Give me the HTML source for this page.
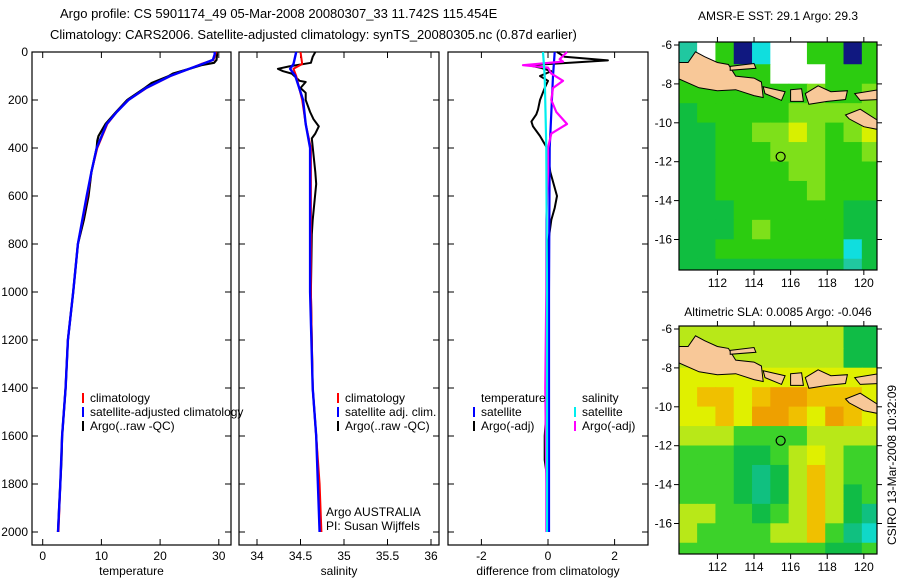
<!DOCTYPE html>
<html><head><meta charset="utf-8">
<style>
html,body{margin:0;padding:0;background:#fff;}
svg{display:block;font-family:"Liberation Sans",sans-serif;}
text{font-size:12px;fill:#000;}
</style></head>
<body>
<svg id="fig" width="900" height="580" viewBox="0 0 900 580" xmlns="http://www.w3.org/2000/svg">
<defs>
<clipPath id="m1clip"><rect x="679" y="42" width="198" height="228"/></clipPath>
<clipPath id="m2clip"><rect x="679" y="326" width="198" height="228"/></clipPath>
</defs>
<text x="60" y="18" style="font-size:13px">Argo profile: CS 5901174_49 05-Mar-2008 20080307_33 11.742S 115.454E</text>
<text x="50" y="39" style="font-size:13px">Climatology: CARS2006. Satellite-adjusted climatology: synTS_20080305.nc (0.87d earlier)</text>
<text x="778" y="20" text-anchor="middle">AMSR-E SST: 29.1 Argo: 29.3</text>
<text x="778" y="316" text-anchor="middle">Altimetric SLA: 0.0085 Argo: -0.046</text>
<text transform="translate(896,545) rotate(-90)">CSIRO 13-Mar-2008 10:32:09</text>
<g id="layer"></g>
</svg>
<script>
// ---------- data ----------
const depthTicks = [0,200,400,600,800,1000,1200,1400,1600,1800,2000];
const tempTicks = [0,10,20,30];
const salTicks = [34,34.5,35,35.5,36];
const diffTicks = [-2,0,2];
const lonTicks = [112,114,116,118,120];
const latTicks = [-6,-8,-10,-12,-14,-16];

const tempDepth = [0,10,33,50,70,100,150,200,250,300,400,500,600,800,1000,1200,1400,1600,1800,2000];
const tempClim = [29.5,29.4,29.1,27,25,21.8,17.7,14.6,12.6,11.0,9.3,8.3,7.6,6.0,5.2,4.3,3.9,3.3,3.0,2.7];
const tempSat = [29.3,29.3,29.0,27.2,25,21.7,17.6,14.6,12.6,10.9,9.2,8.3,7.5,6.0,5.2,4.3,3.9,3.3,3.0,2.6];
const argoTempDepth = [0,10,33,45,55,70,90,100,130,150,200,250,300,350,370,400,500,600,700,800,1000,1200,1400,1600,1700,1800,1900,2000];
const argoTemp = [29.6,29.7,29.6,29.2,27,25,22.2,21.5,18.5,17.4,14.4,12.5,10.7,9.5,9.3,9.2,8.3,7.8,7.0,6.0,5.2,4.3,3.9,3.3,3.2,3.0,2.8,2.6];

const salDepth = [0,50,70,100,200,300,400,600,1000,1400,1600,1800,2000];
const salClim = [34.50,34.52,34.42,34.45,34.52,34.56,34.62,34.62,34.62,34.64,34.68,34.72,34.74];
const salSat = [34.45,34.42,34.38,34.44,34.53,34.56,34.61,34.61,34.61,34.64,34.68,34.70,34.72];
const argoSalDepth = [0,20,45,60,70,80,90,120,125,150,170,200,250,280,310,340,360,500,550,700,760,1000,1400,1600,1800,2000];
const argoSal = [34.67,34.64,34.62,34.37,34.24,34.3,34.4,34.49,34.56,34.5,34.56,34.56,34.61,34.65,34.71,34.67,34.63,34.67,34.68,34.64,34.63,34.62,34.64,34.68,34.71,34.72];

const argoTdiffDepth = [0,20,35,45,55,65,80,100,120,150,200,240,260,290,310,350,400,500,600,650,700,800,1000,1400,1600,1700,1800,2000];
const argoTdiff = [0.27,0.5,1.8,0.66,-0.6,-0.24,0.1,-0.24,0,-0.1,-0.24,-0.3,-0.35,-0.5,-0.45,-0.24,-0.03,0.07,0.27,0.2,0.1,0,0,0,-0.1,-0.1,0,0];
const argoSdiffDepth = [0,30,40,55,65,90,120,150,200,250,300,340,400,500,700,1000,1400,1800,2000];
const argoSdiff = [0.57,0.35,0.45,-0.75,0.0,0.1,0.45,0.15,0.1,0.25,0.57,0.1,0,0,-0.05,-0.05,-0.08,-0.05,-0.05];
const satDiffDepth = [0,100,400,1000,2000];
const satTdiff = [0.2,0.15,0.05,0.03,0.03];
const satSdiff = [-0.15,-0.1,-0.05,-0.03,-0.03];

// map grids: rows lat -6..-18 (1 deg), cols lon 110..120
const sstRows = ["cwgbCwwggbg","gggggwwwggg","gggggggyggy","Ggggggyyyyy","GGggyyYygyY","GGgggyyyggy","GGggggyyggg","GGgggggyggg","GGGggggggGG","GGGgyggggGG","GGgggggggCG","GGGGGGGGGcG"];
const slaRows = ["yyyyyyyyyGG","yyyyyyyyyGG","YYYYYYYYYYY","YOOYOooOOOY","YYOYooOYoOY","yyyggggyyyy","gggGGgyYygg","gggGtGyOygg","gggGtGyOyGg","yyggGgyOyGt","yggggyyOgtT","ggggggggGGg"];
const sstColors = {w:"#ffffff",g:"#2ccc10",G:"#10be40",y:"#7ee01a",Y:"#d8f000",c:"#20c8a0",C:"#10dede",b:"#101880"};
const slaColors = {g:"#3cd22a",G:"#10bc46",t:"#10c080",T:"#10d8c8",y:"#b8e818",Y:"#e0f000",O:"#f0c000",o:"#eea000"};
const argoLon = [115.454];
const argoLat = [-11.742];
const java = [[109.8,-7.7],[111,-8.2],[112,-8.35],[113,-8.3],[114,-8.6],[114.5,-8.7],[114.4,-7.9],[114,-7.7],[113,-7.6],[112.6,-7.0],[112,-6.9],[111.3,-6.6],[110.8,-6.35],[110.4,-6.9],[109.8,-6.9]];
const madura = [[112.7,-7.1],[114,-6.95],[114.1,-7.2],[112.7,-7.3]];
const bali = [[114.5,-8.15],[115.7,-8.4],[115.5,-8.85],[114.6,-8.5]];
const lombok = [[116,-8.3],[116.6,-8.25],[116.7,-8.9],[116,-8.9]];
const sumbawa = [[116.8,-8.5],[117.5,-8.1],[118.2,-8.4],[119.1,-8.35],[119,-8.8],[118,-8.9],[117,-9.05]];
const flores = [[119.5,-8.5],[120.8,-8.3],[120.8,-8.8],[119.8,-8.85]];
const sumba = [[119,-9.6],[119.8,-9.3],[120.8,-9.9],[120.8,-10.35],[120,-10.2],[119.2,-9.8]];
const islands = [java,madura,bali,lombok,sumbawa,flores,sumba];

// ---------- helpers ----------
const NS="http://www.w3.org/2000/svg";
const layer=document.getElementById('layer');
function mk(tag,attrs,parent){const e=document.createElementNS(NS,tag);for(const k in attrs)e.setAttribute(k,attrs[k]);(parent||layer).appendChild(e);return e;}
const yD = d => 52 + d*0.24;
const panels = [
  {x0:32,x1:231,sx:v=>42.7+v*5.87,ticks:tempTicks,label:"temperature",name:"temperature"},
  {x0:239,x1:439,sx:v=>257+(v-34)*87,ticks:salTicks,label:"salinity",name:"salinity"},
  {x0:448,x1:648,sx:v=>548+v*33.3,ticks:diffTicks,label:"difference from climatology",name:"difference"}
];
panels.forEach((p,i)=>{
  const g=mk('g',{});
  
  
  const r=mk('rect',{x:p.x0,y:52,width:p.x1-p.x0,height:493,fill:'none',stroke:'#000','stroke-width':1.2},g);
  
  
  p.ticks.forEach(t=>{
    const x=p.sx(t);
    mk('line',{x1:x,x2:x,y1:545,y2:539,stroke:'#000'},g);
    mk('line',{x1:x,x2:x,y1:52,y2:58,stroke:'#000'},g);
    const tx=mk('text',{x:x,y:560,'text-anchor':'middle'},g);
    tx.textContent=t;
    
    
  });
  depthTicks.forEach(d=>{
    const y=yD(d);
    mk('line',{x1:p.x0,x2:p.x0+6,y1:y,y2:y,stroke:'#000'},g);
    mk('line',{x1:p.x1,x2:p.x1-6,y1:y,y2:y,stroke:'#000'},g);
    if(i===0){
      const tx=mk('text',{x:28,y:y+4,'text-anchor':'end'},g);
      tx.textContent=d;
      
      
    }
  });
  const lab=mk('text',{x:(p.x0+p.x1)/2,y:575,'text-anchor':'middle'},g);
  lab.textContent=p.label;
  
  
});
function series(pi,depths,vals,color,w,name){
  const p=panels[pi];
  const pts=depths.map((d,k)=>p.sx(vals[k]).toFixed(1)+','+yD(d).toFixed(1)).join(' ');
  const l=mk('polyline',{points:pts,fill:'none',stroke:color,'stroke-width':w,'stroke-linejoin':'round'});
  
  
}
series(0,argoTempDepth,argoTemp,'#000',2.2,'argo-temperature-line');
series(0,tempDepth,tempClim,'#f00',2,'climatology-temperature-line');
series(0,tempDepth,tempSat,'#00f',2.4,'satellite-temperature-line');
series(1,argoSalDepth,argoSal,'#000',2,'argo-salinity-line');
series(1,salDepth,salClim,'#f00',2,'climatology-salinity-line');
series(1,salDepth,salSat,'#00f',2.4,'satellite-salinity-line');
series(2,argoTdiffDepth,argoTdiff,'#000',2,'argo-temperature-diff-line');
series(2,satDiffDepth,satTdiff,'#00f',2.2,'satellite-temperature-diff-line');
series(2,argoSdiffDepth,argoSdiff,'#f0f',2.2,'argo-salinity-diff-line');
series(2,satDiffDepth,satSdiff,'#0ee',2.2,'satellite-salinity-diff-line');

function legend(x,y,items,prefix){
  items.forEach((it,k)=>{
    const yy=y+k*14;
    if(it[0]){const m=mk('rect',{x:x,y:yy-9,width:2,height:10,fill:it[0]});
      
      }
    const t=mk('text',{x:x+8,y:yy});
    t.textContent=it[1];
    
    
  });
}
legend(82,402,[['#f00','climatology'],['#00f','satellite-adjusted climatology'],['#000','Argo(..raw -QC)']],'temperature');
legend(337,402,[['#f00','climatology'],['#00f','satellite adj. clim.'],['#000','Argo(..raw -QC)']],'salinity');
legend(473,402,[[null,'temperature'],['#00f','satellite'],['#000','Argo(-adj)']],'temp-diff');
legend(574,402,[[null,'salinity'],['#0ee','satellite'],['#f0f','Argo(-adj)']],'sal-diff');
const a1=mk('text',{x:326,y:516});a1.textContent='Argo AUSTRALIA';


const a2=mk('text',{x:326,y:530});a2.textContent='PI: Susan Wijffels';



// ---------- maps ----------
const mx = lon => 679+(lon-109.9)*18.3;
function drawMap(top,rows,colors,clip,name){
  const my = lat => top+3+(-6-lat)*19.45;
  const g=mk('g',{'clip-path':'url(#'+clip+')'});
  
  
  rows.forEach((row,ri)=>{
    for(let ci=0;ci<row.length;ci++){
      const yTop = ri===0 ? top : my(-6-ri);
      const yBot = my(-7-ri);
      const c=mk('rect',{x:mx(110+ci)-2,y:yTop-0.2,width:18.9,height:yBot-yTop+0.5,fill:colors[row[ci]]||'#2c2'},g);
      
      
    }
  });
  islands.forEach(isl=>{
    const pts=isl.map(q=>mx(q[0]).toFixed(1)+','+my(q[1]).toFixed(1)).join(' ');
    const pg=mk('polygon',{points:pts,fill:'#f8c898',stroke:'#000','stroke-width':1},g);
    
    
  });
  argoLon.forEach((lo,k)=>{
    const c=mk('circle',{cx:mx(lo),cy:my(argoLat[k]),r:4.5,fill:'none',stroke:'#000','stroke-width':1.2},g);
    
    
  });
  const bottom=top+228;
  const fr=mk('rect',{x:679,y:top,width:198,height:228,fill:'none',stroke:'#000','stroke-width':1.2});
  
  
  lonTicks.forEach(lo=>{
    const x=mx(lo);
    mk('line',{x1:x,x2:x,y1:bottom,y2:bottom+5,stroke:'#000'});
    mk('line',{x1:x,x2:x,y1:top,y2:top-5,stroke:'#000'});
    const t=mk('text',{x:x,y:bottom+17,'text-anchor':'middle'});
    t.textContent=lo;
    
    
  });
  latTicks.forEach(la=>{
    const y=my(la);
    mk('line',{x1:679,x2:674,y1:y,y2:y,stroke:'#000'});
    mk('line',{x1:877,x2:882,y1:y,y2:y,stroke:'#000'});
    const t=mk('text',{x:672,y:y+4,'text-anchor':'end'});
    t.textContent=la;
    
    
  });
}
drawMap(42,sstRows,sstColors,'m1clip','sst');
drawMap(326,slaRows,slaColors,'m2clip','sla');
</script>
</body></html>
